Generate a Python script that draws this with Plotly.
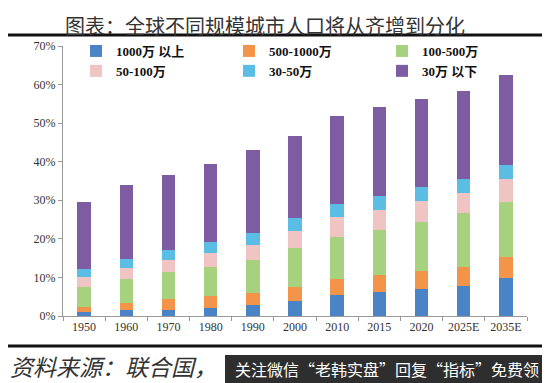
import plotly.graph_objects as go

years = ["1950", "1960", "1970", "1980", "1990", "2000", "2010", "2015", "2020", "2025E", "2035E"]
series_names = ["1000万 以上", "500-1000万", "100-500万", "50-100万", "30-50万", "30万 以下"]
s_1000_plus = [1.0, 1.6, 1.6, 2.0, 2.9, 4.0, 5.5, 6.3, 7.1, 7.8, 9.8]
s_500_1000 = [1.3, 1.9, 2.8, 3.2, 3.0, 3.6, 4.0, 4.3, 4.6, 5.0, 5.6]
s_100_500 = [5.1, 6.0, 7.1, 7.4, 8.6, 10.1, 11.1, 11.7, 12.6, 13.8, 14.2]
s_50_100 = [2.6, 2.9, 3.0, 3.8, 3.9, 4.4, 5.0, 5.2, 5.5, 5.2, 5.8]
s_30_50 = [2.1, 2.3, 2.6, 2.7, 3.0, 3.3, 3.4, 3.6, 3.6, 3.7, 3.7]
s_below_30 = [17.5, 19.2, 19.5, 20.3, 21.6, 21.3, 22.9, 23.0, 22.9, 22.9, 23.5]

series_values = [s_1000_plus, s_500_1000, s_100_500, s_50_100, s_30_50, s_below_30]
colors = ["#4a84c6", "#f4944a", "#a6d27f", "#efc4c2", "#5bbde4", "#7e5ca2"]

# page body has an 8px margin: draw the figure 8px smaller and shift coordinates
OFF = 8
W, H = 550 - OFF, 383 - OFF
L, R, T, B = 63 - OFF, 23, 46 - OFF, 67
pw, ph = W - L - R, H - T - B

def px(x):
    return (x - OFF - L) / pw

def py(y):
    return (H - B - (y - OFF)) / ph

fig = go.Figure()
for name, vals, c in zip(series_names, series_values, colors):
    fig.add_trace(go.Bar(
        x=years, y=[v / 100 for v in vals], name=name,
        marker=dict(color=c, line=dict(width=0)),
    ))

serif = "Liberation Serif, Noto Sans CJK SC, serif"
cjk = "Noto Sans CJK SC, sans-serif"

fig.update_layout(
    width=W, height=H,
    margin=dict(l=L, r=R, t=T, b=B, autoexpand=False),
    barmode="stack", bargap=0.68,
    plot_bgcolor="white", paper_bgcolor="white",
    showlegend=True,
    legend=dict(
        orientation="h", x=(76 - OFF) / W, y=py(36), xanchor="left", yanchor="top",
        xref="container", yref="paper",
        entrywidth=108, traceorder="normal", tracegroupgap=0,
        font=dict(family=serif, size=13, color="#111", weight="bold"),
        bgcolor="rgba(0,0,0,0)", itemwidth=30,
    ),
    xaxis=dict(
        type="category", showline=True, linecolor="#999", linewidth=1,
        ticks="outside", tickson="boundaries", ticklen=4, tickcolor="#999",
        tickfont=dict(family=serif, size=12, color="#333"), showgrid=False,
    ),
    yaxis=dict(
        range=[0, 0.70], dtick=0.1, tickformat=".0%", showline=True,
        linecolor="#999", linewidth=1, ticks="outside", ticklen=4, tickcolor="#999",
        tickfont=dict(family=serif, size=12, color="#333"), showgrid=False,
        zeroline=False,
    ),
)

# title and rules
fig.add_annotation(text="图表：全球不同规模城市人口将从齐增到分化", x=px(265), y=py(8.5),
                   xref="paper", yref="paper", showarrow=False, xanchor="center", yanchor="top",
                   font=dict(family=cjk, size=20, color="#333"))
fig.add_shape(type="line", xref="paper", yref="paper", x0=px(8), x1=px(547), y0=py(35), y1=py(35),
              line=dict(color="#111", width=3))
fig.add_shape(type="line", xref="paper", yref="paper", x0=px(8), x1=px(547), y0=py(346), y1=py(346),
              line=dict(color="#111", width=3))
fig.add_annotation(text="<i>资料来源：联合国，</i>", x=px(8), y=py(366),
                   xref="paper", yref="paper", showarrow=False, xanchor="left", yanchor="middle",
                   font=dict(family=cjk, size=23, color="#333"))
fig.add_shape(type="rect", xref="paper", yref="paper", x0=px(225), x1=px(552), y0=py(355), y1=py(390),
              fillcolor="#2e2e2e", line=dict(width=0))
fig.add_annotation(text="关注微信“老韩实盘”回复“指标”免费领", x=px(233), y=py(369),
                   xref="paper", yref="paper", showarrow=False, xanchor="left", yanchor="middle",
                   font=dict(family=cjk, size=16, color="white"))

fig.write_html("out.html")
